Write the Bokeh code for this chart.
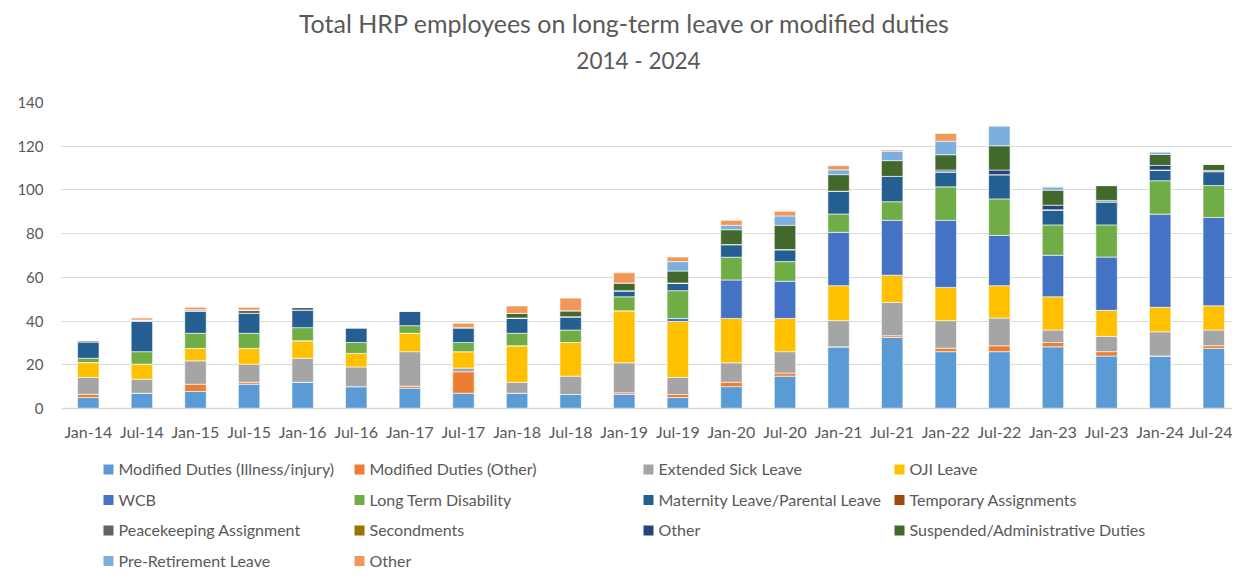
from bokeh.plotting import figure
from bokeh.models import ColumnDataSource, Range1d, FixedTicker
from bokeh.layouts import column
from bokeh.core.properties import value
from bokeh.embed import file_html
from bokeh.resources import INLINE

# ---------------- data ----------------
categories = ["Jan-14", "Jul-14", "Jan-15", "Jul-15", "Jan-16", "Jul-16", "Jan-17", "Jul-17",
              "Jan-18", "Jul-18", "Jan-19", "Jul-19", "Jan-20", "Jul-20", "Jan-21", "Jul-21",
              "Jan-22", "Jul-22", "Jan-23", "Jul-23", "Jan-24", "Jul-24"]

modified_illness = [5, 7, 7.8, 11.1, 12, 10, 9.3, 7, 7, 6.4, 6.4, 5, 10, 14.8, 28.2, 32.5, 26, 26, 28.2, 24, 24, 27.5]
modified_other = [1.5, 0, 3.3, 0.9, 0, 0, 0.9, 9.8, 0, 0, 0.8, 1.4, 2, 1.4, 0, 0.8, 1.6, 2.7, 2, 2, 0, 1.2]
extended_sick = [7.7, 6.4, 10.7, 8.3, 11, 9, 15.8, 1.7, 5, 8.4, 13.7, 7.8, 8.9, 9.8, 12, 15.2, 12.6, 12.7, 5.7, 7, 11.1, 7.2]
oji_leave = [6.8, 6.9, 5.7, 7.2, 8, 6.2, 8.4, 7.5, 16.7, 15.4, 23.8, 25.6, 20.3, 15.2, 16, 12.5, 15.2, 14.8, 15.2, 11.9, 11.2, 11.1]
wcb = [0, 0, 0, 0, 0, 0, 0, 0, 0, 0, 0, 1.4, 17.6, 17, 24.4, 25.1, 30.7, 23, 19, 24.4, 42.6, 40.4]
long_term_disability = [2, 5.7, 6.9, 6.9, 6, 5, 3.5, 4.2, 5.7, 5.7, 6.4, 12.7, 10.4, 9, 8.4, 8.5, 15.3, 16.7, 13.9, 14.7, 15.3, 14.6]
maternity_parental = [7.5, 13.8, 10, 9.1, 8, 6.8, 6.8, 6.8, 7, 6.1, 2.8, 3.5, 5.8, 5.5, 10.4, 11.6, 6.9, 11.1, 6.9, 10.6, 4.9, 6.4]
temporary_assign = [0] * 22
peacekeeping = [0.6, 0.7, 0.8, 1.6, 1.3, 0, 0, 0, 0, 0, 0, 0, 0, 0, 0, 0, 0, 0, 0, 0, 0, 0]
secondments = [0] * 22
other_navy = [0, 0, 0, 0, 0, 0, 0, 0, 0, 0, 0, 0, 0, 0, 0, 0, 0.8, 2.1, 2.1, 0.6, 2.1, 0.5]
suspended_admin = [0, 0, 0, 0, 0, 0, 0, 0, 2.1, 2.7, 3.5, 5.5, 6.8, 11.1, 7.6, 7.2, 7, 11.1, 6.9, 6.8, 5, 2.9]
pre_retirement = [0, 0, 0, 0, 0, 0, 0, 0, 0, 0, 0, 4.3, 2, 4.3, 2.2, 4.3, 6.2, 9.1, 1.5, 0, 1.2, 0]
other_orange = [0, 0.9, 1.1, 1.2, 0, 0, 0, 2, 3.4, 5.8, 4.7, 2.1, 2.3, 2.1, 1.9, 0.6, 3.5, 0, 0, 0, 0, 0]

series_keys = ["modified_illness", "modified_other", "extended_sick", "oji_leave", "wcb",
               "long_term_disability", "maternity_parental", "temporary_assign", "peacekeeping",
               "secondments", "other_navy", "suspended_admin", "pre_retirement", "other_orange"]
series_labels = ["Modified Duties (Illness/injury)", "Modified Duties (Other)", "Extended Sick Leave",
                 "OJI Leave", "WCB", "Long Term Disability", "Maternity Leave/Parental Leave",
                 "Temporary Assignments", "Peacekeeping Assignment", "Secondments", "Other",
                 "Suspended/Administrative Duties", "Pre-Retirement Leave", "Other"]
series_colors = ["#5B9BD5", "#ED7D31", "#A5A5A5", "#FFC000", "#4472C4", "#70AD47", "#255E91",
                 "#9E480E", "#636363", "#997300", "#264478", "#43682B", "#7CAFDD", "#F1975A"]

y_ticks = [0, 20, 40, 60, 80, 100, 120, 140]
title_line1 = "Total HRP employees on long-term leave or modified duties"
title_line2 = "2014 - 2024"

# ---------------- style ----------------
FONT = "Lato"
TEXT_COLOR = "#595959"
GRID_COLOR = "#D9D9D9"
W = 1232
LEFT = 61   # left border shared by all stacked figures (frames are aligned)

values_map = {
    "modified_illness": modified_illness, "modified_other": modified_other,
    "extended_sick": extended_sick, "oji_leave": oji_leave, "wcb": wcb,
    "long_term_disability": long_term_disability, "maternity_parental": maternity_parental,
    "temporary_assign": temporary_assign, "peacekeeping": peacekeeping,
    "secondments": secondments, "other_navy": other_navy,
    "suspended_admin": suspended_admin, "pre_retirement": pre_retirement,
    "other_orange": other_orange,
}
data = {"x": list(range(len(categories)))}
data.update(values_map)
source = ColumnDataSource(data)


def blank_panel(h):
    f = figure(width=W, height=h, x_range=Range1d(LEFT, W), y_range=Range1d(h, 0),
               x_axis_location=None, y_axis_location=None, toolbar_location=None,
               output_backend="svg", min_border_left=LEFT, min_border_right=0,
               min_border_top=0, min_border_bottom=0)
    f.grid.visible = False
    f.outline_line_color = None
    return f


# ---------------- title panel ----------------
TH = 86
tf = blank_panel(TH)
tf.text(x=[624], y=[22], text=[title_line1], text_font=value(FONT), text_font_size="25px",
        text_color=TEXT_COLOR, text_align="center", text_baseline="middle")
tf.text(x=[638], y=[60], text=[title_line2], text_font=value(FONT), text_font_size="22.5px",
        text_color=TEXT_COLOR, text_align="center", text_baseline="middle")

# ---------------- main chart ----------------
p = figure(width=W, height=362, x_range=Range1d(-0.5, 21.35), y_range=Range1d(0, 140),
           toolbar_location=None, output_backend="svg",
           min_border_left=LEFT, min_border_right=0, min_border_top=16, min_border_bottom=40)
p.vbar_stack(series_keys, x="x", width=0.4, source=source, color=series_colors,
             line_color="white", line_width=0.6)

p.outline_line_color = None
p.xgrid.visible = False
p.ygrid.grid_line_color = GRID_COLOR
p.ygrid.grid_line_width = 1
p.ygrid.ticker = FixedTicker(ticks=y_ticks)

p.yaxis.ticker = FixedTicker(ticks=y_ticks)
p.yaxis.axis_line_color = None
p.yaxis.major_tick_line_color = None
p.yaxis.minor_tick_line_color = None
p.yaxis.major_tick_out = 0
p.yaxis.major_tick_in = 0
p.yaxis.major_label_text_font = FONT
p.yaxis.major_label_text_font_size = "15px"
p.yaxis.major_label_text_color = TEXT_COLOR
p.yaxis.major_label_standoff = 18

p.xaxis.ticker = FixedTicker(ticks=list(range(len(categories))))
p.xaxis.major_label_overrides = {i: c for i, c in enumerate(categories)}
p.xaxis.axis_line_color = GRID_COLOR
p.xaxis.axis_line_width = 1.5
p.xaxis.major_tick_line_color = None
p.xaxis.minor_tick_line_color = None
p.xaxis.major_tick_out = 0
p.xaxis.major_tick_in = 0
p.xaxis.major_label_text_font = FONT
p.xaxis.major_label_text_font_size = "16px"
p.xaxis.major_label_text_color = TEXT_COLOR
p.xaxis.major_label_standoff = 13

# ---------------- legend panel ----------------
LH = 120
lf = blank_panel(LH)
col_x = [103, 354, 643, 894]
row_y = [20, 50.5, 81, 111.5]
sw_x, sw_y, tx_x, tx_y = [], [], [], []
for i in range(len(series_labels)):
    r, c = divmod(i, 4)
    sw_x.append(col_x[c] + 5)
    sw_y.append(row_y[r] + 1)
    tx_x.append(col_x[c] + 15)
    tx_y.append(row_y[r])
lf.rect(x=sw_x, y=sw_y, width=10, height=10, width_units="screen", height_units="screen",
        fill_color=series_colors, line_color=None)
lf.text(x=tx_x, y=tx_y, text=series_labels, text_font=value(FONT), text_font_size="16px",
        text_color=TEXT_COLOR, text_align="left", text_baseline="middle")

layout = column(tf, p, lf, spacing=0)
open("out.html", "w").write(file_html(layout, INLINE))
